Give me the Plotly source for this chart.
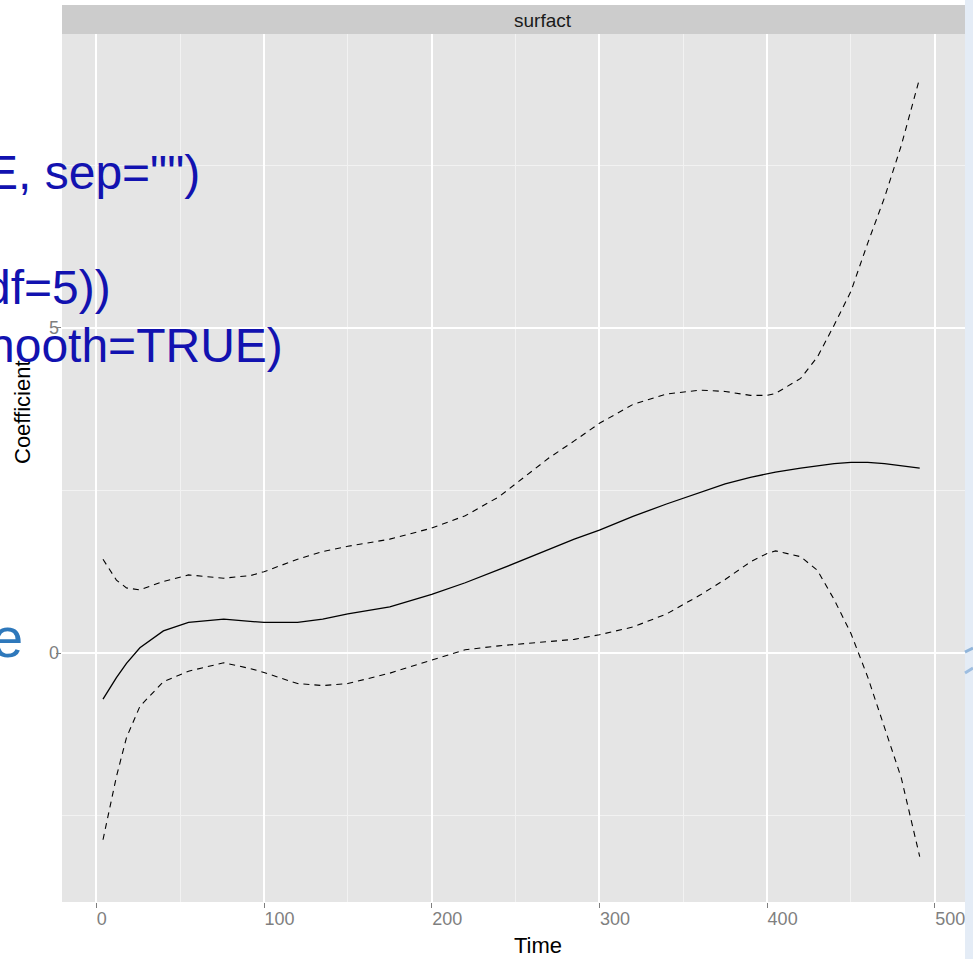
import plotly.graph_objects as go

# Time grid and the smoothed coefficient with its confidence band
time = [4, 12, 18, 26, 40, 55, 76, 92, 100, 120, 135, 150, 175, 200, 220, 240,
        255, 270, 285, 300, 320, 340, 360, 375, 390, 400, 405, 420, 430, 440,
        450, 460, 470, 480, 491]
fit = [-0.71, -0.38, -0.16, 0.08, 0.34, 0.47, 0.52, 0.48, 0.47, 0.47, 0.52,
       0.60, 0.71, 0.90, 1.08, 1.28, 1.44, 1.60, 1.75, 1.89, 2.10, 2.29, 2.47,
       2.60, 2.70, 2.76, 2.78, 2.84, 2.88, 2.91, 2.93, 2.93, 2.91, 2.88, 2.84]
upper = [1.44, 1.12, 1.00, 0.97, 1.10, 1.20, 1.15, 1.19, 1.25, 1.44, 1.56,
         1.64, 1.75, 1.92, 2.11, 2.40, 2.70, 3.00, 3.26, 3.53, 3.82, 3.98,
         4.04, 4.02, 3.96, 3.96, 3.99, 4.22, 4.55, 5.04, 5.56, 6.30, 7.00,
         7.80, 8.84]
lower = [-2.87, -1.90, -1.30, -0.82, -0.44, -0.28, -0.15, -0.24, -0.30, -0.47,
         -0.50, -0.47, -0.31, -0.11, 0.05, 0.11, 0.14, 0.18, 0.21, 0.28, 0.40,
         0.60, 0.89, 1.13, 1.40, 1.53, 1.57, 1.48, 1.27, 0.82, 0.30, -0.37,
         -1.13, -1.92, -3.13]

x_ticks = [0, 100, 200, 300, 400, 500]
y_ticks = [0, 5]

panel_title = "surfact"
x_title = "Time"
y_title = "Coefficient"
code_lines = ['E, sep="")', "df=5))", "nooth=TRUE)"]

W, H = 973, 959
ML, MR, MT, MB = 62, 8, 34, 57
PW, PH = W - ML - MR, H - MT - MB


def px(x):
    return (x - ML) / PW


def py(y):
    return (H - MB - y) / PH


fig = go.Figure()
dash = "6px,5px"
fig.add_trace(go.Scatter(x=time, y=upper, mode="lines",
                         line=dict(color="black", width=1.1, dash=dash)))
fig.add_trace(go.Scatter(x=time, y=lower, mode="lines",
                         line=dict(color="black", width=1.1, dash=dash)))
fig.add_trace(go.Scatter(x=time, y=fit, mode="lines",
                         line=dict(color="black", width=1.3)))

tick_font = dict(family="Liberation Sans, Arial, sans-serif", size=18, color="#7f7f7f")

fig.update_layout(
    width=W, height=H,
    margin=dict(l=ML, r=MR, t=MT, b=MB),
    paper_bgcolor="white",
    plot_bgcolor="#e5e5e5",
    showlegend=False,
    font=dict(family="Liberation Sans, Arial, sans-serif"),
    xaxis=dict(range=[-20.45, 518], tickvals=x_ticks,
               showgrid=True, gridcolor="white", gridwidth=1.5,
               minor=dict(tickvals=[50, 150, 250, 350, 450], showgrid=True,
                          gridcolor="#f2f2f2", gridwidth=0.8),
               zeroline=False, showline=False,
               ticks="outside", ticklen=5, tickcolor="#7f7f7f", tickwidth=1,
               ticklabelposition="outside right",
               tickfont=tick_font),
    yaxis=dict(range=[-3.827, 9.514], tickvals=y_ticks, showticklabels=False,
               showgrid=True, gridcolor="white", gridwidth=1.5,
               minor=dict(tickvals=[-2.5, 2.5, 7.5], showgrid=True,
                          gridcolor="#f2f2f2", gridwidth=0.8),
               zeroline=False, showline=False,
               ticks="outside", ticklen=5, tickcolor="#7f7f7f", tickwidth=1),
)

shapes = [
    # facet strip
    dict(type="rect", xref="paper", yref="paper", x0=0, x1=1,
         y0=1, y1=py(5), fillcolor="#cccccc", line=dict(width=0), layer="below"),
    # light blue band at the right edge
    dict(type="rect", xref="paper", yref="paper", x0=px(965), x1=px(973),
         y0=py(959), y1=py(0), fillcolor="#e4ecf6", line=dict(width=0)),
    dict(type="line", xref="paper", yref="paper", x0=px(965), x1=px(973),
         y0=py(652), y1=py(648), line=dict(color="#8fb4da", width=3)),
    dict(type="line", xref="paper", yref="paper", x0=px(965), x1=px(973),
         y0=py(673), y1=py(668), line=dict(color="#9dbde0", width=3)),
]
fig.update_layout(shapes=shapes)

ann = [
    dict(text=panel_title, x=px(543), y=py(20), xref="paper", yref="paper",
         showarrow=False, font=dict(size=19, color="#1a1a1a"),
         xanchor="center", yanchor="middle"),
    dict(text=x_title, x=px(538), y=py(946), xref="paper", yref="paper",
         showarrow=False, font=dict(size=22, color="black"),
         xanchor="center", yanchor="middle"),
    dict(text=y_title, x=px(23), y=py(412), xref="paper", yref="paper",
         showarrow=False, font=dict(size=22, color="black"), textangle=-90,
         xanchor="center", yanchor="middle"),
]

# y tick labels sit right against the tick marks
for v in y_ticks:
    ann.append(dict(text=str(v), x=px(61), y=v, xref="paper", yref="y",
                    showarrow=False, xanchor="right", yanchor="middle",
                    font=tick_font))

code_color = "#1212b0"
code_right = [202, 113, 285]
code_mid = [172, 287, 345]
for txt, xr, ym in zip(code_lines, code_right, code_mid):
    ann.append(dict(text=txt, x=px(xr), y=py(ym), xref="paper", yref="paper",
                    showarrow=False, xanchor="right", yanchor="middle",
                    font=dict(size=48, color=code_color)))
ann.append(dict(text="e", x=px(25), y=py(637), xref="paper", yref="paper",
                showarrow=False, xanchor="right", yanchor="middle",
                font=dict(size=56, color="#2e78bb")))
fig.update_layout(annotations=ann)

fig.write_html("out.html")
